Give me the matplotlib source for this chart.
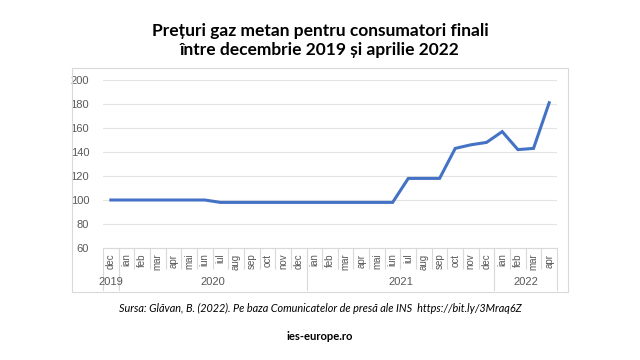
import matplotlib
matplotlib.use("Agg")
import matplotlib.pyplot as plt
from matplotlib.patches import Rectangle
import matplotlib.transforms as mtransforms

months = ["dec",
          "ian", "feb", "mar", "apr", "mai", "iun", "iul", "aug", "sep", "oct", "nov", "dec",
          "ian", "feb", "mar", "apr", "mai", "iun", "iul", "aug", "sep", "oct", "nov", "dec",
          "ian", "feb", "mar", "apr"]
years = ["2019", "2020", "2021", "2022"]
year_sizes = [1, 12, 12, 4]
preturi = [100,
           100, 100, 100, 100, 100, 100, 98, 98, 98, 98, 98, 98,
           98, 98, 98, 98, 98, 98, 118, 118, 118, 143, 146, 148,
           157, 142, 143, 181]

fig = plt.figure(figsize=(6.4, 3.6), dpi=100)

# chenar grafic
fig.patches.append(Rectangle((72 / 640, 1 - 292 / 360), 496 / 640, 224 / 360,
                             transform=fig.transFigure, fill=False,
                             edgecolor="#d9d9d9", linewidth=0.8))

ax = fig.add_axes([103 / 640, 1 - 248 / 360, 454 / 640, 168 / 360])
x = list(range(len(preturi)))
ax.plot(x, preturi, color="#4472C4", linewidth=2.2, solid_joinstyle="miter")

ax.set_xlim(-0.5, len(preturi) - 0.5)
ax.set_ylim(60, 200)
ax.set_yticks(range(60, 201, 20))
ax.grid(axis="y", color="#e3e3e3", linewidth=0.8)
ax.set_axisbelow(True)
for s in ax.spines.values():
    s.set_visible(False)

ax.tick_params(axis="y", length=0, pad=10, labelsize=8, labelcolor="#595959")
ax.set_xticks(x)
ax.set_xticklabels(months, rotation=90, fontsize=7, color="#595959")
ax.tick_params(axis="x", which="major", length=0, pad=4)
ax.set_xticks([i + 0.5 for i in range(len(preturi) - 1)], minor=True)
ax.tick_params(axis="x", which="minor", length=15, color="#d9d9d9", width=0.8)
for lab in ax.get_yticklabels() + ax.get_xticklabels():
    lab.set_fontfamily("Liberation Sans")

# separatori si etichete ani
trans = mtransforms.blended_transform_factory(ax.transData, ax.transAxes)
ax.plot([-0.5, 28.5], [0, 0], color="#d9d9d9", linewidth=0.8, transform=trans, clip_on=False)
start = 0
bounds = [-0.5]
for yr, n in zip(years, year_sizes):
    ax.text(start + (n - 1) / 2, -0.205, yr, transform=trans, ha="center", va="center",
            fontsize=8, color="#595959", family="Liberation Sans")
    start += n
    bounds.append(start - 0.5)
for b in bounds:
    ax.plot([b, b], [0, -0.25], color="#d9d9d9", linewidth=0.8, transform=trans, clip_on=False)

fig.text(0.5, 1 - 31 / 360, "Prețuri gaz metan pentru consumatori finali",
         ha="center", va="center", fontsize=12.5, fontweight="bold", family="Lato")
fig.text(0.5, 1 - 50 / 360, "între decembrie 2019 și aprilie 2022",
         ha="center", va="center", fontsize=12.5, fontweight="bold", family="Lato")
fig.text(0.5, 1 - 308 / 360,
         "Sursa: Glăvan, B. (2022). Pe baza Comunicatelor de presă ale INS  https://bit.ly/3Mraq6Z",
         ha="center", va="center", fontsize=7.8, style="italic", family="Lato")
fig.text(0.5, 1 - 336 / 360, "ies-europe.ro", ha="center", va="center",
         fontsize=8.1, fontweight="bold", family="Lato")

fig.savefig("out.png", dpi=100)
